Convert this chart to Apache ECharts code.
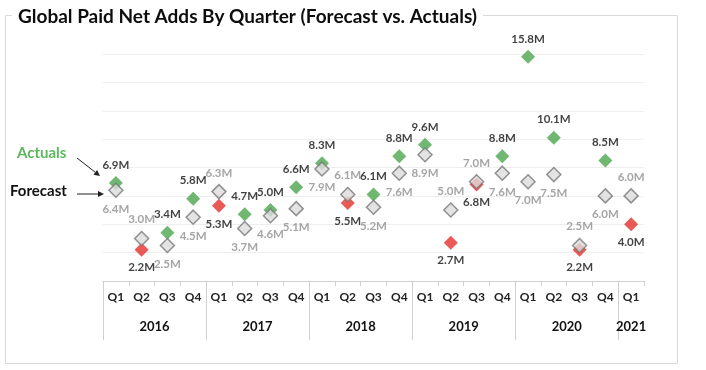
<!DOCTYPE html>
<html>
<head>
<meta charset="utf-8">
<script src="https://cdn.jsdelivr.net/npm/echarts@6/dist/echarts.min.js"></script>
<style>
html,body{margin:0;padding:0;background:#fff;}
#c{width:706px;height:370px;}
</style>
</head>
<body>
<div id="c"></div>
<script>
// ---- data ----
const quarterLabels = ['Q1','Q2','Q3','Q4','Q1','Q2','Q3','Q4','Q1','Q2','Q3','Q4','Q1','Q2','Q3','Q4','Q1','Q2','Q3','Q4','Q1'];
const years = ['2016','2017','2018','2019','2020','2021'];
const quartersPerYear = [4,4,4,4,4,1];
const forecast = [6.4,3.0,2.5,4.5, 6.3,3.7,4.6,5.1, 7.9,6.1,5.2,7.6, 8.9,5.0,7.0,7.6, 7.0,7.5,2.5,6.0, 6.0];
const actuals  = [6.9,2.2,3.4,5.8, 5.3,4.7,5.0,6.6, 8.3,5.5,6.1,8.8, 9.6,2.7,6.8,8.8, 15.8,10.1,2.2,8.5, 4.0];

const GREEN = '#4ca64f';
const RED = '#e3302a';
const FONT = 'Lato';

// half-quarter axis for year labels / separators
const nHalf = quarterLabels.length * 2;
const halfData = new Array(nHalf + 1).fill('');
const sepIdx = new Set();
let q = 0;
years.forEach((y, i) => {
  sepIdx.add(q * 2);
  halfData[q * 2 + quartersPerYear[i]] = y;
  q += quartersPerYear[i];
});

const fmt = p => p.value.toFixed(1) + 'M';

const actualData = actuals.map((v, i) => {
  const up = v >= forecast[i];
  return {
    value: v,
    itemStyle: { color: up ? GREEN : RED },
    label: { position: up ? 'top' : 'bottom' }
  };
});
const forecastData = forecast.map((v, i) => {
  const up = actuals[i] >= v;
  return { value: v, label: { position: up ? 'bottom' : 'top' } };
});

function arrow(x1, y1, x2, y2) {
  const a = Math.atan2(y2 - y1, x2 - x1), L = 6, W = 3;
  const bx = x2 - L * Math.cos(a), by = y2 - L * Math.sin(a);
  return [
    { type: 'line', shape: { x1, y1, x2: bx, y2: by }, style: { stroke: '#222', lineWidth: 1 } },
    { type: 'polygon', shape: { points: [[x2, y2], [bx - W * Math.sin(a), by + W * Math.cos(a)], [bx + W * Math.sin(a), by - W * Math.cos(a)]] }, style: { fill: '#222' } }
  ];
}

const chart = echarts.init(document.getElementById('c'), null, { renderer: 'canvas' });
chart.setOption({
  backgroundColor: '#fff',
  animation: false,
  title: {
    text: 'Global Paid Net Adds By Quarter (Forecast vs. Actuals)',
    left: 12, top: 5,
    padding: [2, 6],
    backgroundColor: '#fff',
    textStyle: { fontFamily: FONT, fontSize: 19, fontWeight: 'bold', color: '#0d0d0d' }
  },
  graphic: [
    { type: 'rect', z: -10, shape: { x: 5.5, y: 15.5, width: 672, height: 348 }, style: { fill: 'none', stroke: '#d9d9d9', lineWidth: 1 } },
    { type: 'text', left: 17, top: 146, style: { text: 'Actuals', fill: '#5cb85c', font: 'bold 15px Lato' } },
    { type: 'text', left: 10, top: 184, style: { text: 'Forecast', fill: '#111', font: 'bold 15px Lato' } },
    ...arrow(77, 158, 100, 176),
    ...arrow(77, 194, 104, 194)
  ],
  grid: { left: 103, right: 62, top: 54, bottom: 89 },
  xAxis: [
    {
      type: 'category',
      data: quarterLabels,
      boundaryGap: true,
      axisLine: { lineStyle: { color: '#d0d0d0', width: 1 } },
      axisTick: { show: true, length: 5, lineStyle: { color: '#d0d0d0' } },
      axisLabel: { interval: 0, margin: 10, fontFamily: FONT, fontSize: 12, fontWeight: 'bold', color: '#222' }
    },
    {
      type: 'category',
      data: halfData,
      boundaryGap: false,
      position: 'bottom',
      axisLine: { show: false },
      axisTick: { show: true, length: 59, interval: (i) => sepIdx.has(i), lineStyle: { color: '#d0d0d0' } },
      axisLabel: { interval: 0, margin: 39, fontFamily: FONT, fontSize: 13, fontWeight: 'bold', color: '#111' }
    }
  ],
  yAxis: {
    type: 'value', min: 0, max: 16, interval: 2,
    axisLine: { show: false }, axisTick: { show: false }, axisLabel: { show: false },
    splitLine: { lineStyle: { color: '#eeeeee', width: 1 } }
  },
  series: [
    {
      name: 'Actuals', type: 'scatter', xAxisIndex: 0, z: 2,
      symbol: 'diamond', symbolSize: 14,
      data: actualData,
      label: { show: true, formatter: fmt, fontFamily: FONT, fontSize: 11.5, fontWeight: 'bold', color: '#111', distance: 5 }
    },
    {
      name: 'Forecast', type: 'scatter', xAxisIndex: 0, z: 3,
      symbol: 'diamond', symbolSize: 14,
      itemStyle: { color: '#dcdcdc', borderColor: '#777', borderWidth: 1.5 },
      data: forecastData,
      label: { show: true, formatter: fmt, fontFamily: FONT, fontSize: 11.5, fontWeight: 'bold', color: '#8f8f8f', distance: 5 }
    }
  ]
});
</script>
</body>
</html>
